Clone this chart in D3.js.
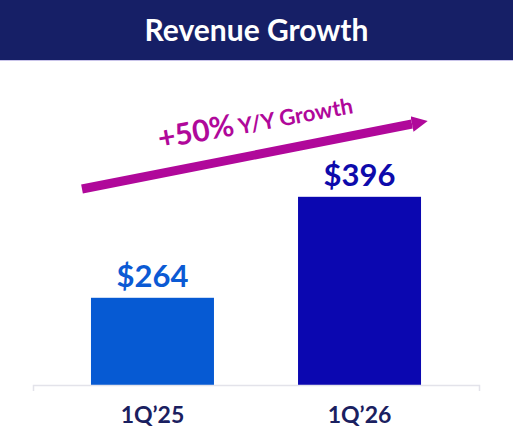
<!DOCTYPE html>
<html>
<head>
<meta charset="utf-8">
<script src="https://cdn.jsdelivr.net/npm/d3@7"></script>
<style>
  body { margin: 0; background: #fff; }
  text { font-family: Lato, "Open Sans", sans-serif; font-weight: 700; }
</style>
</head>
<body>
<script>
// chart data
var quarters = ["1Q\u201925", "1Q\u201926"];
var revenue = [264, 396];
var valueLabels = ["$264", "$396"];
var growthLabel = ["+50%", " Y/Y Growth"];

var width = 513, height = 440;
var barColors = ["#065ad3", "#0b07b0"];
var labelColors = ["#0b5ad4", "#0d0aab"];

var svg = d3.select("body").append("svg")
    .attr("width", width)
    .attr("height", height);

// header band
svg.append("rect")
    .attr("x", 0).attr("y", 0)
    .attr("width", width).attr("height", 60)
    .attr("fill", "#161f66");
svg.append("rect")
    .attr("x", 0).attr("y", 60)
    .attr("width", width).attr("height", 1)
    .attr("fill", "#c9c4ea");
svg.append("text")
    .attr("x", width / 2)
    .attr("y", 41)
    .attr("text-anchor", "middle")
    .attr("font-size", 30)
    .attr("fill", "#ffffff")
    .text("Revenue Growth");

// scales - the value axis does not start at zero in the original
var x = d3.scaleBand()
    .domain(quarters)
    .range([33, 479])
    .paddingInner(0.406)
    .paddingOuter(0.28);

var y = d3.scaleLinear()
    .domain([150, 450])
    .range([385, 155.5]);

// bars
svg.selectAll(".bar")
    .data(quarters)
    .enter().append("rect")
    .attr("class", "bar")
    .attr("x", function(d) { return x(d); })
    .attr("y", function(d, i) { return y(revenue[i]); })
    .attr("width", x.bandwidth())
    .attr("height", function(d, i) { return y(150) - y(revenue[i]); })
    .attr("fill", function(d, i) { return barColors[i]; });

// value labels
svg.selectAll(".val")
    .data(quarters)
    .enter().append("text")
    .attr("class", "val")
    .attr("x", function(d) { return x(d) + x.bandwidth() / 2; })
    .attr("y", function(d, i) { return y(revenue[i]) - 11; })
    .attr("text-anchor", "middle")
    .attr("font-size", 31)
    .attr("fill", function(d, i) { return labelColors[i]; })
    .text(function(d, i) { return valueLabels[i]; });

// baseline axis
var xAxis = d3.axisBottom(x).tickSize(0).tickSizeOuter(6).tickPadding(22);
var gx = svg.append("g")
    .attr("transform", "translate(0,385)")
    .call(xAxis);
gx.select(".domain").attr("stroke", "#e3e3ea").attr("stroke-width", 1.5);
gx.selectAll(".tick text")
    .attr("font-family", "Lato, sans-serif")
    .attr("font-weight", 700)
    .attr("font-size", 23)
    .attr("fill", "#1a2060")
    .attr("dy", "0.71em");

// growth arrow
var arrowColor = "#b0089a";
var defs = svg.append("defs");
defs.append("marker")
    .attr("id", "head")
    .attr("viewBox", "0 0 10 10")
    .attr("refX", 0).attr("refY", 5)
    .attr("markerUnits", "userSpaceOnUse")
    .attr("markerWidth", 16).attr("markerHeight", 20)
    .attr("orient", "auto")
    .append("path")
    .attr("d", "M0,0L10,5L0,10Z")
    .attr("fill", arrowColor);

svg.append("line")
    .attr("x1", 82).attr("y1", 189)
    .attr("x2", 412).attr("y2", 124)
    .attr("stroke", arrowColor)
    .attr("stroke-width", 9)
    .attr("marker-end", "url(#head)");

var gt = svg.append("text")
    .attr("transform", "translate(160,149) rotate(-10.5)")
    .attr("fill", arrowColor);
gt.append("tspan").attr("font-size", 30).text(growthLabel[0]);
gt.append("tspan").attr("font-size", 22).text(growthLabel[1]);
</script>
</body>
</html>
